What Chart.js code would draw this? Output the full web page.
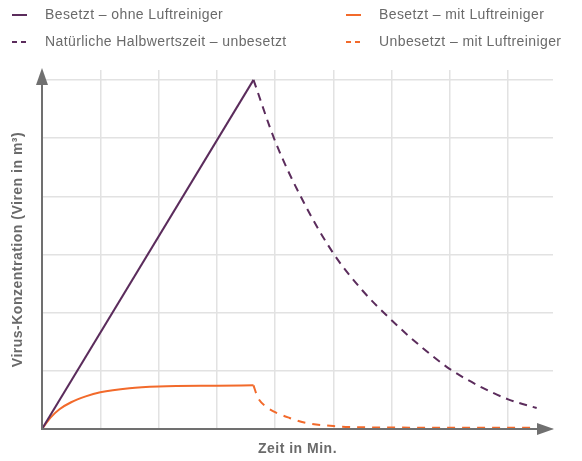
<!DOCTYPE html>
<html>
<head>
<meta charset="utf-8">
<script src="https://cdn.jsdelivr.net/npm/chart.js@4/dist/chart.umd.min.js"></script>
<style>
  html, body { margin: 0; padding: 0; background: #fff; }
  #wrap { width: 582px; height: 461px; position: relative; }
</style>
</head>
<body>
<div id="wrap"><canvas id="chart"></canvas></div>
<script>
// x in grid units (time), y in grid units (concentration)
const occupiedNoPurifierX = [0, 3.63];
const occupiedNoPurifierY = [0, 6];

const halfLifeX = [3.63, 4, 4.5, 5, 5.5, 6, 6.5, 7, 7.5, 8, 8.49];
const halfLifeY = [6, 4.95, 3.88, 3.02, 2.38, 1.87, 1.42, 1.03, 0.74, 0.51, 0.36];

const occupiedPurifierX = [0, 0.15, 0.3, 0.5, 0.75, 1, 1.5, 2, 3, 3.63];
const occupiedPurifierY = [0, 0.2, 0.34, 0.46, 0.56, 0.63, 0.7, 0.73, 0.745, 0.75];

const emptyPurifierX = [3.63, 3.7, 3.85, 4, 4.25, 4.5, 5, 5.5, 6, 7, 8.49];
const emptyPurifierY = [0.75, 0.55, 0.38, 0.29, 0.19, 0.11, 0.05, 0.03, 0.025, 0.02, 0.02];

const seriesLabels = [
  'Besetzt – ohne Luftreiniger',
  'Natürliche Halbwertszeit – unbesetzt',
  'Besetzt – mit Luftreiniger',
  'Unbesetzt – mit Luftreiniger'
];

const purple = '#5b2c5c';
const orange = '#f26a2b';
const axisGray = '#707070';
const textGray = '#6a6a6a';
const fontFamily = '"Liberation Sans", Arial, sans-serif';

const pts = (xs, ys) => xs.map((x, i) => ({ x: x, y: ys[i] }));

// original text is set a bit wider than Arial
const spacing = {
  id: 'spacing',
  beforeDraw(chart) { chart.ctx.letterSpacing = '0.5px'; }
};

// legend drawn in two columns like the original
const legendPlugin = {
  id: 'twoColLegend',
  afterDraw(chart) {
    const ctx = chart.ctx;
    const items = [
      { col: 12, row: 15, color: purple, dash: [] },
      { col: 12, row: 42, color: purple, dash: [5, 4] },
      { col: 346, row: 15, color: orange, dash: [] },
      { col: 346, row: 42, color: orange, dash: [5, 4] }
    ];
    ctx.save();
    ctx.font = '14px ' + fontFamily;
    ctx.letterSpacing = '0.4px';
    ctx.textBaseline = 'middle';
    items.forEach((it, i) => {
      ctx.strokeStyle = it.color;
      ctx.lineWidth = 2;
      ctx.setLineDash(it.dash);
      ctx.beginPath();
      ctx.moveTo(it.col, it.row);
      ctx.lineTo(it.col + 15, it.row);
      ctx.stroke();
      ctx.setLineDash([]);
      ctx.fillStyle = textGray;
      ctx.fillText(seriesLabels[i], it.col + 33, it.row);
    });
    ctx.restore();
  }
};

// axis lines with arrow heads
const arrowAxes = {
  id: 'arrowAxes',
  afterDatasetsDraw(chart) {
    const { ctx, chartArea: a } = chart;
    ctx.save();
    ctx.strokeStyle = axisGray;
    ctx.fillStyle = axisGray;
    ctx.lineWidth = 2;
    ctx.beginPath();
    ctx.moveTo(a.left, a.top + 10);
    ctx.lineTo(a.left, a.bottom);
    ctx.lineTo(a.right - 10, a.bottom);
    ctx.stroke();
    ctx.beginPath();
    ctx.moveTo(a.left, a.top - 2);
    ctx.lineTo(a.left - 6, a.top + 15);
    ctx.lineTo(a.left + 6, a.top + 15);
    ctx.closePath();
    ctx.fill();
    ctx.beginPath();
    ctx.moveTo(a.right + 1, a.bottom);
    ctx.lineTo(a.right - 16, a.bottom - 6);
    ctx.lineTo(a.right - 16, a.bottom + 6);
    ctx.closePath();
    ctx.fill();
    ctx.restore();
  }
};

new Chart(document.getElementById('chart'), {
  type: 'line',
  data: {
    datasets: [
      {
        label: seriesLabels[0],
        data: pts(occupiedNoPurifierX, occupiedNoPurifierY),
        borderColor: purple,
        borderWidth: 2,
        pointRadius: 0,
        tension: 0
      },
      {
        label: seriesLabels[1],
        data: pts(halfLifeX, halfLifeY),
        borderColor: purple,
        borderWidth: 2,
        borderDash: [8, 6],
        pointRadius: 0,
        cubicInterpolationMode: 'monotone'
      },
      {
        label: seriesLabels[2],
        data: pts(occupiedPurifierX, occupiedPurifierY),
        borderColor: orange,
        borderWidth: 2,
        pointRadius: 0,
        cubicInterpolationMode: 'monotone'
      },
      {
        label: seriesLabels[3],
        data: pts(emptyPurifierX, emptyPurifierY),
        borderColor: orange,
        borderWidth: 2,
        borderDash: [8, 7],
        pointRadius: 0,
        cubicInterpolationMode: 'monotone'
      }
    ]
  },
  options: {
    responsive: true,
    maintainAspectRatio: false,
    animation: false,
    layout: { padding: { top: 70, right: 29, left: 0, bottom: 0 } },
    plugins: {
      legend: { display: false },
      tooltip: { enabled: false }
    },
    scales: {
      x: {
        type: 'linear',
        min: 0,
        max: 8.77,
        afterFit(scale) { scale.height = 32; },
        ticks: { display: false, stepSize: 1, includeBounds: false },
        grid: { color: '#e2e2e2', lineWidth: 1.5, drawTicks: false },
        border: { display: false },
        title: {
          display: true,
          text: 'Zeit in Min.',
          color: textGray,
          font: { family: fontFamily, size: 14, weight: 'bold' },
          padding: { top: 0, bottom: 3 }
        }
      },
      y: {
        type: 'linear',
        min: 0,
        max: 6.17,
        afterFit(scale) { scale.width = 42; },
        ticks: { display: false, stepSize: 1, includeBounds: false },
        grid: { color: '#e2e2e2', lineWidth: 1.5, drawTicks: false },
        border: { display: false },
        title: {
          display: true,
          text: 'Virus-Konzentration (Viren in m³)',
          color: textGray,
          font: { family: fontFamily, size: 14, weight: 'bold' },
          padding: { top: 10, bottom: 0 }
        }
      }
    }
  },
  plugins: [spacing, legendPlugin, arrowAxes]
});
</script>
</body>
</html>
